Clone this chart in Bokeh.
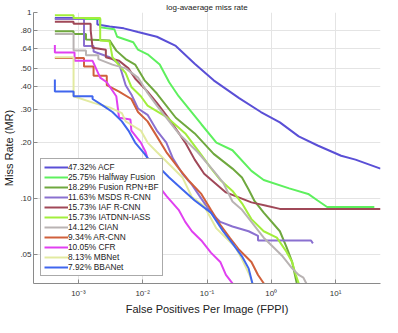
from bokeh.plotting import figure
from bokeh.models import Range1d, FixedTicker, CustomJSTickFormatter
from bokeh.embed import file_html
from bokeh.resources import INLINE

labels = ["47.32% ACF", "25.75% Halfway Fusion", "18.29% Fusion RPN+BF", "11.63% MSDS R-CNN",
          "15.73% IAF R-CNN", "15.73% IATDNN-IASS", "14.12% CIAN", "9.34% AR-CNN",
          "10.05% CFR", "8.13% MBNet", "7.92% BBANet"]
colors = ["#5a4fd6", "#5ef05e", "#6fa83e", "#8a70d0", "#a04858", "#a2ee3c", "#b9b3b3",
          "#d0603c", "#e040f0", "#e2eaa0", "#4066ee"]

acf_fppi = [4.3e-4, 1.97e-3, 1.97e-3, 3.05e-3, 5.08e-3, 8.44e-3, 0.0166, 0.0327, 0.0644, 0.127, 0.316, 0.689, 1.36, 2.67, 5.26, 12.2, 20.4, 50]
acf_mr = [0.933, 0.933, 0.861, 0.841, 0.822, 0.785, 0.741, 0.661, 0.531, 0.432, 0.347, 0.292, 0.257, 0.216, 0.193, 0.170, 0.162, 0.145]

hf_fppi = [4.3e-4, 2.18e-3, 2.18e-3, 3.62e-3, 4.0e-3, 7.13e-3, 8.44e-3, 0.0119, 0.0184, 0.0258, 0.0362, 0.0816, 0.140, 0.249, 0.491, 0.762, 1.90, 3.75, 5.26, 7.38, 40.1]
hf_mr = [0.923, 0.923, 0.832, 0.813, 0.741, 0.692, 0.631, 0.596, 0.525, 0.422, 0.355, 0.251, 0.200, 0.182, 0.141, 0.126, 0.1135, 0.106, 0.0977, 0.0902, 0.0902]

frb_fppi = [4.3e-4, 8.4e-4, 8.4e-4, 1.31e-3, 1.31e-3, 3.05e-3, 3.88e-3, 5.43e-3, 7.62e-3, 0.0107, 0.0166, 0.0327, 0.0644, 0.127, 0.249, 0.350, 0.444, 0.543, 0.762, 1.36, 1.72, 2.11, 2.49, 2.6]
frb_mr = [0.794, 0.794, 0.767, 0.767, 0.716, 0.708, 0.624, 0.562, 0.525, 0.432, 0.367, 0.272, 0.224, 0.174, 0.145, 0.130, 0.112, 0.0977, 0.0841, 0.0668, 0.055, 0.0457, 0.0351, 0.0335]

msds_fppi = [4.3e-4, 1.22e-3, 1.22e-3, 1.72e-3, 1.72e-3, 3.05e-3, 4.29e-3, 5.43e-3, 6.66e-3, 8.44e-3, 0.0119, 0.0166, 0.0233, 0.0296, 0.0415, 0.0582, 0.0816, 0.115, 0.161, 0.249, 0.444, 0.622, 0.622, 4.15, 4.44]
msds_mr = [0.923, 0.923, 0.661, 0.661, 0.617, 0.575, 0.531, 0.407, 0.363, 0.305, 0.282, 0.232, 0.200, 0.164, 0.136, 0.119, 0.100, 0.0841, 0.075, 0.0708, 0.0668, 0.0631, 0.0596, 0.0596, 0.0575]

iaf_fppi = [4.3e-4, 8.4e-4, 8.4e-4, 1.55e-3, 1.55e-3, 1.66e-3, 2.67e-3, 2.67e-3, 4.29e-3, 6.0e-3, 7.62e-3, 0.0119, 0.0166, 0.025, 0.0459, 0.0644, 0.0903, 0.197, 0.491, 0.873, 1.36, 50]
iaf_mr = [0.891, 0.891, 0.871, 0.871, 0.803, 0.646, 0.631, 0.575, 0.550, 0.501, 0.442, 0.376, 0.327, 0.272, 0.200, 0.162, 0.136, 0.108, 0.0955, 0.0912, 0.0881, 0.0881]

iat_fppi = [4.3e-4, 8.4e-4, 8.4e-4, 2.18e-3, 2.18e-3, 3.05e-3, 3.38e-3, 5.43e-3, 6.66e-3, 9.35e-3, 0.0119, 0.0233, 0.0459, 0.0816, 0.115, 0.161, 0.249, 0.350, 0.491, 0.762, 1.22, 1.72, 2.11, 2.41, 2.67, 2.76]
iat_mr = [0.966, 0.966, 0.933, 0.933, 0.708, 0.700, 0.575, 0.473, 0.398, 0.355, 0.316, 0.275, 0.224, 0.172, 0.146, 0.126, 0.110, 0.0944, 0.0776, 0.0668, 0.0617, 0.0519, 0.0457, 0.0389, 0.0351, 0.0335]

cian_fppi = [4.3e-4, 8.4e-4, 8.4e-4, 1.31e-3, 1.31e-3, 2.04e-3, 2.04e-3, 3.38e-3, 5.43e-3, 8.44e-3, 0.0119, 0.0166, 0.0362, 0.0713, 0.127, 0.178, 0.249, 0.350, 0.491, 0.762, 1.07, 1.50, 2.11, 2.67, 3.16, 3.50, 3.6]
cian_mr = [0.767, 0.767, 0.624, 0.624, 0.589, 0.589, 0.562, 0.525, 0.501, 0.447, 0.370, 0.316, 0.224, 0.178, 0.141, 0.122, 0.0966, 0.0871, 0.075, 0.0617, 0.055, 0.049, 0.0422, 0.0389, 0.0376, 0.0351, 0.0335]

ar_fppi = [4.3e-4, 1.22e-3, 1.22e-3, 1.72e-3, 1.72e-3, 2.76e-3, 2.76e-3, 4.29e-3, 6.66e-3, 8.44e-3, 0.0119, 0.0166, 0.0233, 0.0362, 0.0508, 0.0816, 0.115, 0.161, 0.225, 0.316, 0.491, 0.622, 0.762, 0.79]
ar_mr = [0.569, 0.569, 0.513, 0.513, 0.457, 0.457, 0.407, 0.376, 0.343, 0.292, 0.260, 0.216, 0.178, 0.146, 0.126, 0.106, 0.0871, 0.0724, 0.0617, 0.0531, 0.0457, 0.0389, 0.0351, 0.0335]

cfr_fppi = [4.3e-4, 4.3e-4, 8.7e-4, 8.7e-4, 1.66e-3, 2.18e-3, 2.76e-3, 3.88e-3, 4.29e-3, 6.44e-3, 6.66e-3, 9.35e-3, 0.0111, 0.0150, 0.0233, 0.0362, 0.0459, 0.0582, 0.0816, 0.115, 0.161, 0.197, 0.249, 0.26]
cfr_mr = [0.668, 0.610, 0.610, 0.550, 0.550, 0.447, 0.422, 0.355, 0.272, 0.266, 0.232, 0.200, 0.178, 0.126, 0.1035, 0.0871, 0.075, 0.0668, 0.0596, 0.0513, 0.0457, 0.0389, 0.0351, 0.0335]

mb_fppi = [4.3e-4, 8.4e-4, 8.4e-4, 1.72e-3, 3.05e-3, 4.74e-3, 5.43e-3, 6.44e-3, 9.35e-3, 0.0119, 0.0166, 0.0258, 0.0415, 0.0582, 0.0903, 0.140, 0.197, 0.276, 0.350, 0.459, 0.508, 0.53]
mb_mr = [0.575, 0.575, 0.355, 0.327, 0.309, 0.288, 0.260, 0.251, 0.232, 0.200, 0.178, 0.153, 0.130, 0.102, 0.0912, 0.0692, 0.0617, 0.055, 0.0473, 0.0389, 0.0351, 0.0335]

bba_fppi = [4.3e-4, 4.3e-4, 8.4e-4, 8.4e-4, 1.66e-3, 1.66e-3, 2.41e-3, 3.38e-3, 4.74e-3, 6.0e-3, 7.62e-3, 0.0107, 0.0131, 0.0184, 0.0258, 0.0415, 0.0644, 0.115, 0.178, 0.249, 0.350, 0.444, 0.508, 0.53]
bba_mr = [0.437, 0.376, 0.376, 0.355, 0.355, 0.343, 0.316, 0.292, 0.260, 0.232, 0.200, 0.174, 0.158, 0.146, 0.130, 0.112, 0.0977, 0.0841, 0.0668, 0.0575, 0.049, 0.0422, 0.0351, 0.0335]

series = [(acf_fppi, acf_mr), (hf_fppi, hf_mr), (frb_fppi, frb_mr), (msds_fppi, msds_mr),
          (iaf_fppi, iaf_mr), (iat_fppi, iat_mr), (cian_fppi, cian_mr), (ar_fppi, ar_mr),
          (cfr_fppi, cfr_mr), (mb_fppi, mb_mr), (bba_fppi, bba_mr)]

x_ticks = [1e-3, 1e-2, 1e-1, 1, 10]
y_ticks = [0.05, 0.1, 0.2, 0.3, 0.4, 0.5, 0.64, 0.8, 1.0]

FONT = "Liberation Sans"

p = figure(width=382, height=317, x_axis_type="log", y_axis_type="log",
           x_range=Range1d(2e-4, 50), y_range=Range1d(0.035, 1.0),
           output_backend="svg", toolbar_location=None,
           title="log-avaerage miss rate",
           x_axis_label="False Positives Per Image (FPPI)", y_axis_label="Miss Rate (MR)",
           min_border_left=2, min_border_right=2, min_border_top=2, min_border_bottom=2)

p.title.align = "center"
p.title.text_font = FONT
p.title.text_font_size = "8px"
p.title.text_font_style = "normal"
p.title.text_color = "#222222"
p.title.standoff = 1

for (xs, ys), lab, col in zip(series, labels, colors):
    p.line(xs, ys, line_color=col, line_width=2, legend_label=lab)

for ax in (p.xaxis[0], p.yaxis[0]):
    ax.axis_line_color = "#8a8a8a"
    ax.major_tick_line_color = "#8a8a8a"
    ax.major_tick_in = 4
    ax.major_tick_out = 0
    ax.minor_tick_line_color = None
    ax.major_label_text_font = FONT
    ax.major_label_text_font_size = "8px"
    ax.major_label_text_color = "#333333"
    ax.axis_label_text_font = FONT
    ax.axis_label_text_font_size = "11px"
    ax.axis_label_text_font_style = "normal"
    ax.axis_label_text_color = "#222222"

p.xaxis.ticker = FixedTicker(ticks=x_ticks)
p.yaxis.ticker = FixedTicker(ticks=y_ticks)
p.xaxis.formatter = CustomJSTickFormatter(code="""
const e = Math.round(Math.log10(tick));
const sup = {'-':'\u207b','0':'\u2070','1':'\u00b9','2':'\u00b2','3':'\u00b3'};
return '10' + String(e).split('').map(c => sup[c]).join('');
""")
p.yaxis.formatter = CustomJSTickFormatter(code="""
if (tick >= 1) return '1';
return tick.toFixed(2).replace(/^0/, '');
""")
p.xaxis.major_label_standoff = 5
p.xaxis.axis_label_standoff = 2
p.yaxis.major_label_standoff = 2
p.yaxis.axis_label_standoff = 2

p.xgrid.ticker = FixedTicker(ticks=x_ticks)
p.ygrid.ticker = FixedTicker(ticks=y_ticks)
p.grid.grid_line_color = "#e4e4e4"
p.grid.grid_line_width = 1
p.outline_line_color = None

lg = p.legend[0]
lg.location = (7, 7)
lg.label_text_font = FONT
lg.label_text_font_size = "8.3px"
lg.label_text_color = "#222222"
lg.glyph_width = 24
lg.glyph_height = 10
lg.label_height = 10
lg.label_standoff = 0
lg.spacing = 0
lg.padding = 3
lg.margin = 0
lg.border_line_color = "#555555"
lg.border_line_width = 1
lg.background_fill_alpha = 1

open("out.html", "w").write(file_html(p, INLINE))
